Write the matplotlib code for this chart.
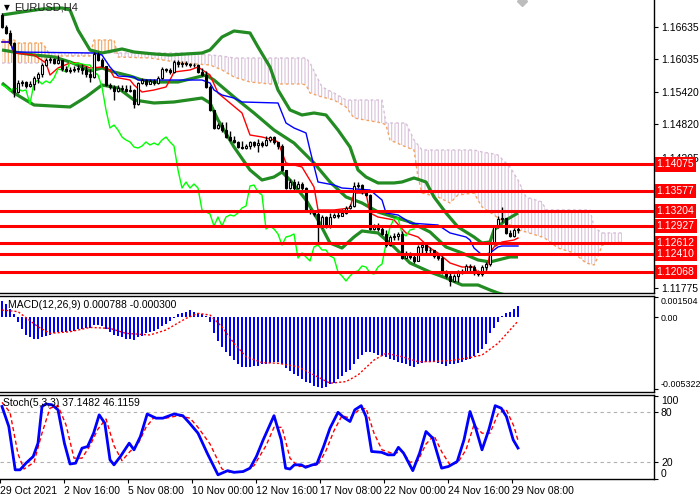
import matplotlib
matplotlib.use("Agg")
import matplotlib.pyplot as plt
import matplotlib.transforms as mtransforms
import numpy as np

# EURUSD H4 candles, 29 Oct 2021 00:00 .. 29 Nov 2021 12:00 (one value per bar)
first_open = 1.16859
closes = [
    1.16635, 1.16524, 1.16337, 1.15425, 1.15593, 1.15611, 1.15537, 1.15574, 1.15686, 1.15760,
    1.15928, 1.16021, 1.16039, 1.15965, 1.16021, 1.15853, 1.15816, 1.15835, 1.15853, 1.15872,
    1.15835, 1.15760, 1.15704, 1.16133, 1.16021, 1.15909, 1.15555, 1.15518, 1.15444, 1.15499,
    1.15481, 1.15444, 1.15462, 1.15202, 1.15593, 1.15648, 1.15574, 1.15630, 1.15593, 1.15686,
    1.15853, 1.15835, 1.15797, 1.15984, 1.15946, 1.15965, 1.15946, 1.15928, 1.15928, 1.15797,
    1.15741, 1.15518, 1.15090, 1.14755, 1.14810, 1.14717, 1.14587, 1.14531, 1.14494, 1.14401,
    1.14382, 1.14419, 1.14494, 1.14438, 1.14475, 1.14438, 1.14531, 1.14587, 1.14494, 1.14419,
    1.13973, 1.13637, 1.13749, 1.13637, 1.13712, 1.13637, 1.13228, 1.13191, 1.13153, 1.12930,
    1.13097, 1.12930, 1.13097, 1.13135, 1.13116, 1.13172, 1.13265, 1.13302, 1.13675, 1.13693,
    1.13563, 1.13507, 1.12874, 1.12930, 1.12874, 1.12781, 1.12576, 1.12725, 1.12744, 1.12781,
    1.12334, 1.12427, 1.12353, 1.12278, 1.12539, 1.12576, 1.12483, 1.12483, 1.12371, 1.12334,
    1.12073, 1.11999, 1.11906, 1.11999, 1.12073, 1.12092, 1.12185, 1.12166, 1.12055, 1.12036,
    1.12166, 1.12222, 1.12595, 1.12911, 1.13060, 1.13079, 1.12800, 1.12744, 1.12855, 1.12874,
]
highs = [
    1.16896, 1.16672, 1.16579, 1.16356, 1.15648, 1.15648, 1.15630, 1.15630, 1.15723, 1.15797,
    1.15965, 1.16058, 1.16077, 1.16058, 1.16114, 1.16021, 1.15909, 1.15890, 1.15909, 1.15928,
    1.15946, 1.15909, 1.15853, 1.16170, 1.16170, 1.16058, 1.15909, 1.15593, 1.15555, 1.15555,
    1.15555, 1.15555, 1.15555, 1.15481, 1.15611, 1.15686, 1.15667, 1.15667, 1.15667, 1.15723,
    1.15890, 1.15872, 1.15872, 1.16021, 1.16021, 1.16002, 1.16002, 1.15965, 1.15965, 1.15946,
    1.15872, 1.15816, 1.15555, 1.15090, 1.14848, 1.14866, 1.14866, 1.14699, 1.14606, 1.14513,
    1.14513, 1.14457, 1.14513, 1.14513, 1.14550, 1.14513, 1.14606, 1.14606, 1.14606, 1.14494,
    1.14457, 1.13973, 1.13805, 1.13805, 1.13768, 1.13749, 1.13656, 1.13246, 1.13228, 1.13209,
    1.13135, 1.13116, 1.13172, 1.13172, 1.13191, 1.13246, 1.13302, 1.13340, 1.13749, 1.13749,
    1.13712, 1.13582, 1.13526, 1.12967, 1.12985, 1.12930, 1.12855, 1.12762, 1.12800, 1.12818,
    1.12837, 1.12464, 1.12446, 1.12409, 1.12576, 1.12613, 1.12576, 1.12539, 1.12483, 1.12427,
    1.12371, 1.12111, 1.12073, 1.12036, 1.12111, 1.12129, 1.12222, 1.12222, 1.12204, 1.12111,
    1.12204, 1.12260, 1.12632, 1.12948, 1.13116, 1.13284, 1.13079, 1.12855, 1.12893, 1.12911,
]
lows = [
    1.16617, 1.16505, 1.16300, 1.15332, 1.15406, 1.15537, 1.15499, 1.15518, 1.15462, 1.15593,
    1.15704, 1.15909, 1.15965, 1.15946, 1.15946, 1.15816, 1.15797, 1.15779, 1.15797, 1.15797,
    1.15760, 1.15704, 1.15611, 1.15686, 1.16002, 1.15890, 1.15537, 1.15481, 1.15276, 1.15425,
    1.15444, 1.15425, 1.15425, 1.15127, 1.15183, 1.15574, 1.15537, 1.15574, 1.15555, 1.15574,
    1.15667, 1.15797, 1.15760, 1.15779, 1.15890, 1.15890, 1.15909, 1.15890, 1.15890, 1.15779,
    1.15723, 1.15499, 1.15071, 1.14736, 1.14736, 1.14680, 1.14568, 1.14513, 1.14475, 1.14382,
    1.14364, 1.14364, 1.14364, 1.14401, 1.14308, 1.14401, 1.14420, 1.14494, 1.14457, 1.14364,
    1.13954, 1.13619, 1.13619, 1.13582, 1.13637, 1.13600, 1.13209, 1.13153, 1.13116, 1.12613,
    1.12893, 1.12893, 1.12893, 1.13079, 1.13079, 1.13116, 1.13153, 1.13246, 1.13284, 1.13637,
    1.13526, 1.13488, 1.12855, 1.12855, 1.12837, 1.12762, 1.12539, 1.12557, 1.12669, 1.12669,
    1.12315, 1.12334, 1.12315, 1.12241, 1.12278, 1.12409, 1.12409, 1.12427, 1.12334, 1.12297,
    1.12036, 1.11962, 1.11813, 1.11887, 1.11887, 1.12036, 1.12073, 1.12092, 1.12017, 1.11999,
    1.11999, 1.12111, 1.12185, 1.12576, 1.12893, 1.13004, 1.12781, 1.12725, 1.12725, 1.12800,
]

# Bollinger bands (bar index, price)
bb_upper_bars = [0, 5, 10, 15, 17, 19, 22, 25, 30, 33, 38, 42, 46, 50, 52, 55, 58, 62, 64, 67,
                 69, 72, 75, 78, 81, 84, 87, 89, 91, 94, 98, 100, 103, 106, 108, 111, 114, 118, 120, 122,
                 123, 126, 129]
bb_upper = [1.16859, 1.16915, 1.16970, 1.16989, 1.16952, 1.16579, 1.16207, 1.16151, 1.16226, 1.16170,
            1.16133, 1.16114, 1.16133, 1.16151, 1.16207, 1.16449, 1.16561, 1.16524, 1.16263, 1.15890,
            1.15462, 1.15090, 1.14997, 1.15034, 1.14997, 1.14717, 1.14401, 1.13973, 1.13842, 1.13731,
            1.13731, 1.13749, 1.13824, 1.13749, 1.13470, 1.13172, 1.12911, 1.12725, 1.12613, 1.12632,
            1.12855, 1.13042, 1.13172]
bb_mid_bars = [0, 3, 8, 13, 17, 20, 22, 25, 28, 32, 35, 39, 44, 48, 51, 53, 58, 63, 68, 73,
               78, 82, 86, 90, 94, 98, 102, 107, 111, 115, 119, 122, 124, 127, 129]
bb_mid = [1.16207, 1.16170, 1.16114, 1.16077, 1.15984, 1.15890, 1.15816, 1.15872, 1.15797, 1.15723,
          1.15648, 1.15611, 1.15611, 1.15686, 1.15741, 1.15648, 1.15332, 1.15034, 1.14717, 1.14475,
          1.14103, 1.13749, 1.13470, 1.13358, 1.13191, 1.13097, 1.13004, 1.12818, 1.12539, 1.12427,
          1.12297, 1.12260, 1.12297, 1.12353, 1.12353]
bb_low_bars = [0, 3, 8, 17, 21, 25, 29, 33, 38, 43, 50, 52, 54, 58, 62, 65, 68, 70, 72, 76,
               79, 82, 85, 88, 90, 94, 98, 102, 107, 111, 115, 119, 122, 124, 129]
bb_low = [1.15593, 1.15406, 1.15183, 1.15146, 1.15332, 1.15555, 1.15499, 1.15276, 1.15220, 1.15239,
          1.15313, 1.15220, 1.14904, 1.14401, 1.13973, 1.13786, 1.13842, 1.13935, 1.13786, 1.13414,
          1.13042, 1.12613, 1.12520, 1.12725, 1.12837, 1.12800, 1.12539, 1.12241, 1.12073, 1.11962,
          1.11831, 1.11831, 1.11738, 1.11682, 1.11580]

# Ichimoku lines
tenkan_bars = [0, 2, 3, 8, 11, 12, 14, 17, 19, 22, 25, 27, 28, 32, 33, 35, 38, 41, 42, 43,
               47, 49, 52, 54, 57, 60, 62, 65, 68, 69, 71, 75, 78, 79, 83, 87, 88, 91, 92, 94,
               98, 101, 104, 107, 109, 112, 115, 118, 119, 121, 122, 123, 125, 128, 129]
tenkan = [1.16356, 1.16356, 1.16151, 1.16114, 1.15965, 1.15741, 1.15872, 1.15965, 1.15965, 1.15872,
          1.15890, 1.15835, 1.15704, 1.15648, 1.15555, 1.15425, 1.15462, 1.15518, 1.15648, 1.15797,
          1.15835, 1.15890, 1.15741, 1.15406, 1.15220, 1.15034, 1.14624, 1.14587, 1.14531, 1.14494,
          1.14103, 1.14028, 1.13656, 1.13228, 1.13228, 1.13265, 1.13544, 1.13544, 1.13172, 1.13097,
          1.13042, 1.12800, 1.12725, 1.12520, 1.12427, 1.12241, 1.12166, 1.12166, 1.12055, 1.12055,
          1.12427, 1.12539, 1.12632, 1.12669, 1.12706]
kijun_bars = [0, 2, 3, 23, 25, 27, 29, 33, 34, 50, 52, 53, 55, 58, 60, 69, 71, 73, 76, 77,
              79, 83, 85, 92, 95, 96, 99, 101, 102, 109, 112, 116, 117, 118, 120, 122, 124, 125, 129]
kijun = [1.16356, 1.16356, 1.16170, 1.16151, 1.16114, 1.15890, 1.15723, 1.15704, 1.15648, 1.15648,
         1.15593, 1.15462, 1.15369, 1.15313, 1.15239, 1.15220, 1.14848, 1.14755, 1.14662, 1.14345,
         1.13749, 1.13693, 1.13637, 1.13600, 1.13414, 1.13172, 1.13135, 1.13042, 1.12985, 1.12948,
         1.12800, 1.12725, 1.12669, 1.12520, 1.12390, 1.12427, 1.12539, 1.12557, 1.12557]
chikou_shift = 26

# Kumo (shifted forward 26 bars)
cloud_bars = [0, 3, 4, 10, 11, 12, 22, 23, 28, 29, 37, 45, 52, 55, 58, 62, 67, 75, 76, 77,
              80, 83, 86, 88, 95, 96, 97, 101, 103, 104, 105, 109, 112, 114, 118, 120, 123, 124, 126, 127,
              129, 131, 135, 136, 139, 143, 146, 147, 148, 149, 150, 155]
span_a = [1.16393, 1.16393, 1.16337, 1.16337, 1.16244, 1.16095, 1.16095, 1.16393, 1.16393, 1.16077,
          1.16058, 1.15965, 1.15928, 1.15835, 1.15704, 1.15611, 1.15574, 1.15574, 1.15555, 1.15406,
          1.15332, 1.15276, 1.15146, 1.14941, 1.14848, 1.14810, 1.14531, 1.14401, 1.14345, 1.13842,
          1.13544, 1.13470, 1.13358, 1.13507, 1.13544, 1.13284, 1.13135, 1.13079, 1.12985, 1.12948,
          1.12855, 1.12818, 1.12725, 1.12688, 1.12520, 1.12427, 1.12241, 1.12222, 1.12204, 1.12353,
          1.12576, 1.12632]
span_b = [1.15965, 1.15965, 1.15965, 1.15965, 1.16021, 1.16151, 1.16151, 1.16151, 1.16151, 1.16151,
          1.16151, 1.16151, 1.16114, 1.16095, 1.16058, 1.16058, 1.16058, 1.16058, 1.16058, 1.15965,
          1.15518, 1.15406, 1.15276, 1.15276, 1.15276, 1.14848, 1.14848, 1.14848, 1.14531, 1.14438,
          1.14345, 1.14345, 1.14345, 1.14345, 1.14345, 1.14308, 1.14271, 1.14252, 1.14103, 1.14028,
          1.13786, 1.13470, 1.13377, 1.13228, 1.13228, 1.13228, 1.13228, 1.13228, 1.12911, 1.12855,
          1.12800, 1.12800]

# horizontal levels and visible price scale ticks
levels = [1.14075, 1.13577, 1.13204, 1.12927, 1.12612, 1.12410, 1.12068]
price_ticks = [1.16635, 1.16035, 1.15420, 1.14820, 1.14205, 1.11775]

# MACD(12,26,9)
macd_hist = [
    0.0012, 0.0010, 0.0006, 0.0002, -0.0004, -0.0009, -0.0013, -0.0015, -0.0016, -0.0016,
    -0.0015, -0.0014, -0.0013, -0.0012, -0.0011, -0.0011, -0.0011, -0.0010, -0.0010, -0.0009,
    -0.0009, -0.0008, -0.0008, -0.0006, -0.0006, -0.0007, -0.0009, -0.0011, -0.0013, -0.0014,
    -0.0015, -0.0016, -0.0016, -0.0017, -0.0015, -0.0014, -0.0012, -0.0011, -0.0010, -0.0009,
    -0.0007, -0.0005, -0.0003, -0.0001, 0.0002, 0.0003, 0.0004, 0.0005, 0.0004, 0.0003,
    0.0002, 0.0001, -0.0004, -0.0012, -0.0018, -0.0022, -0.0026, -0.0029, -0.0032, -0.0035,
    -0.0037, -0.0037, -0.0037, -0.0036, -0.0036, -0.0035, -0.0035, -0.0034, -0.0033, -0.0033,
    -0.0035, -0.0038, -0.0040, -0.0042, -0.0044, -0.0046, -0.0048, -0.0049, -0.0051, -0.0052,
    -0.0053, -0.0052, -0.0050, -0.0049, -0.0046, -0.0044, -0.0041, -0.0039, -0.0035, -0.0031,
    -0.0028, -0.0026, -0.0026, -0.0027, -0.0028, -0.0029, -0.0030, -0.0031, -0.0032, -0.0033,
    -0.0034, -0.0035, -0.0036, -0.0037, -0.0035, -0.0034, -0.0033, -0.0033, -0.0033, -0.0034,
    -0.0035, -0.0036, -0.0035, -0.0035, -0.0034, -0.0033, -0.0032, -0.0031, -0.0029, -0.0027,
    -0.0024, -0.0020, -0.0012, -0.0008, -0.0004, 0.0001, 0.0003, 0.0004, 0.0006, 0.000788,
]
signal_bars = [0, 4, 9, 12, 17, 22, 27, 31, 37, 41, 46, 49, 52, 55, 58, 61, 65, 69, 74, 78,
               82, 86, 89, 93, 96, 100, 104, 107, 112, 116, 120, 124, 127, 129]
macd_signal = [0.00052, 0.0004, -0.00072, -0.00121, -0.00109, -0.00077, -0.00084, -0.00121, -0.00133, -0.00096,
               -0.0001, 0.00027, 0.00015, -0.00072, -0.00195, -0.00294, -0.00338, -0.00343, -0.00368, -0.0043,
               -0.00491, -0.00479, -0.0043, -0.00319, -0.00269, -0.00294, -0.00331, -0.00331, -0.00323, -0.00306,
               -0.00282, -0.00195, -0.00096, -0.00030]

# Stochastic(5,3,3)
k_bars = [0, 1.7, 3.3, 4.5, 6, 7.8, 9, 10, 11, 12.5, 14, 15.6, 17, 18.4, 20, 21.4, 22.9, 24.3, 25.7, 27,
          28, 29.6, 31.8, 33, 34.6, 36.3, 38.5, 40.2, 43, 45.2, 46.9, 49, 51.3, 54, 56.4, 58, 60.3, 62, 63.6, 65.3,
          68, 69.8, 70.9, 72, 73.1, 74.8, 75.9, 77.6, 78.7, 80.4, 82, 84, 85.4, 87, 88.2, 89.8, 91, 92.4, 94.9, 96.5,
          98, 99.1, 100.4, 102.7, 104.4, 106, 107.7, 109.9, 111.6, 113.8, 115.5, 117, 118.3, 120, 121.7, 123.3,
          124.8, 126.1, 127.8, 129]
stoch_k = [87, 63, 11, 11, 19, 27, 43, 87, 90, 89, 83, 43, 18, 19, 37, 39, 55, 77, 67, 23,
           17, 27, 43, 35, 51, 78, 73, 73, 78, 76, 67, 55, 31, 5, 10, 8, 9, 13, 27, 47,
           76, 47, 13, 12, 17, 17, 14, 17, 18, 39, 61, 80, 74, 69, 83, 88, 75, 33, 32, 29,
           29, 38, 31, 10, 31, 57, 49, 13, 15, 21, 47, 81, 63, 35, 59, 88,
           85, 75, 47, 37.1482]
d_bars = [0, 2, 4, 5.5, 8, 10, 12, 14, 16, 18, 20, 22, 24, 26, 28, 30, 32, 34, 36, 38,
          41, 44, 47, 49, 52, 55, 57, 60, 63, 66, 68, 70, 72, 74, 77, 79, 81, 83, 85, 87,
          89, 91, 93, 95, 98, 100, 102, 104, 106, 108, 110, 112, 114, 116, 118, 120, 122, 124, 126, 128, 129]
stoch_d = [92, 80, 30, 12, 20, 55, 85, 88, 65, 25, 25, 40, 60, 72, 40, 22, 33, 42, 62, 74,
           73, 76, 73, 62, 42, 12, 8, 8, 16, 40, 62, 62, 25, 15, 16, 17, 34, 58, 76, 73,
           82, 85, 55, 35, 30, 34, 20, 22, 42, 52, 32, 17, 20, 35, 65, 55, 55, 78, 84, 63, 46.1159]

date_bars = [0, 16, 32, 48, 64, 80, 96, 112, 128]
date_labels = ["29 Oct 2021", "2 Nov 16:00", "5 Nov 08:00", "10 Nov 00:00", "12 Nov 16:00",
               "17 Nov 08:00", "22 Nov 00:00", "24 Nov 16:00", "29 Nov 08:00"]

plt.rcParams['font.family'] = ['Liberation Sans', 'DejaVu Sans']
plt.rcParams['hatch.linewidth'] = 0.8

fig = plt.figure(figsize=(7, 5), dpi=100)
W = 654 / 700
ax = fig.add_axes([0, 1 - 293 / 500, W, 293 / 500])
axm = fig.add_axes([0, 1 - 392 / 500, W, 96 / 500])
axs = fig.add_axes([0, 1 - 479 / 500, W, 84 / 500])

n = len(closes)
x = np.arange(n)
opens = [first_open] + closes[:-1]

# cloud
cb = np.array(cloud_bars)
sa = np.array(span_a)
sb = np.array(span_b)
ax.fill_between(cb, sa, sb, where=sa >= sb, interpolate=True, facecolor='none',
                edgecolor='#F4A460', hatch='|||||', linewidth=0, zorder=1)
ax.fill_between(cb, sa, sb, where=sa < sb, interpolate=True, facecolor='none',
                edgecolor='#DAC2DA', hatch='|||||', linewidth=0, zorder=1)
ax.plot(cb, sa, color='#F4A460', lw=1, ls=(0, (2, 2)), zorder=2)
ax.plot(cb, sb, color='#D8BFD8', lw=1, ls=(0, (2, 2)), zorder=2)

# bollinger bands
for bx, by in [(bb_upper_bars, bb_upper), (bb_mid_bars, bb_mid), (bb_low_bars, bb_low)]:
    ax.plot(bx, by, color='#228B22', lw=2.3, zorder=3, solid_capstyle='butt')

# ichimoku lines
ax.plot(tenkan_bars, tenkan, color='red', lw=1, zorder=4)
ax.plot(kijun_bars, kijun, color='blue', lw=1, zorder=4)
ax.plot(x[:n - chikou_shift], closes[chikou_shift:], color='#00FF00', lw=1, zorder=4)

# candles
ax.vlines(x, lows, highs, color='black', lw=1, zorder=5)
body_lo = [min(o, c) for o, c in zip(opens, closes)]
body_h = [max(abs(c - o), 0.00002) for o, c in zip(opens, closes)]
body_col = ['white' if c > o else 'black' for o, c in zip(opens, closes)]
ax.bar(x, body_h, bottom=body_lo, width=0.62, color=body_col, edgecolor='black',
       linewidth=0.8, zorder=6)

# levels with price boxes
trans = mtransforms.blended_transform_factory(ax.transAxes, ax.transData)
for lv in levels:
    ax.axhline(lv, color='red', lw=2.2, zorder=8)
    ax.text(1.004, lv, f"{lv:.5f}", transform=trans, ha='left', va='center', color='white',
            fontsize=7.5, zorder=10,
            bbox=dict(boxstyle='square,pad=0.2', facecolor='red', edgecolor='none'))

ax.set_ylim(1.11682, 1.17138)
ax.yaxis.tick_right()
ax.set_yticks(price_ticks)
ax.set_yticklabels([f"{p:.5f}" for p in price_ticks])

# chart shift marker
ax.plot(130, 1.1712, marker='D', color='#BDBDBD', ms=5, clip_on=False, zorder=9)

fig.text(4 / 700, 1 - 8 / 500, "\u25bc", fontsize=5.5, va='center', ha='left',
         family='DejaVu Sans')
fig.text(14 / 700, 1 - 8 / 500, "EURUSD,H4", fontsize=8, va='center', ha='left', color='#222222')

# MACD
axm.bar(x, macd_hist, width=0.7, color='#0000FF', zorder=2)
axm.plot(signal_bars, macd_signal, color='red', lw=1, ls=(0, (1.5, 1.5)), zorder=3)
axm.set_ylim(-0.00556, 0.00156)
axm.yaxis.tick_right()
axm.set_yticks([0.001504, 0.0, -0.005322])
axm.set_yticklabels(["0.001504", "0.00", "-0.005322"])
lbls = axm.get_yticklabels()
lbls[0].set_va('top')
lbls[2].set_va('bottom')
axm.text(8 / 654, 1 - 9 / 96, "MACD(12,26,9) 0.000788 -0.000300", transform=axm.transAxes,
         fontsize=7.5, va='center', ha='left')

# Stochastic
axs.axhline(80, color='#B0B0B0', lw=0.8, ls=(0, (3, 3)), zorder=1)
axs.axhline(20, color='#B0B0B0', lw=0.8, ls=(0, (3, 3)), zorder=1)
axs.plot(d_bars, stoch_d, color='red', lw=1, ls=(0, (3, 2)), zorder=2)
axs.plot(k_bars, stoch_k, color='#0000FF', lw=2, zorder=3)
axs.set_ylim(0, 100.8)
axs.yaxis.tick_right()
axs.set_yticks([100, 80, 20, 0])
axs.set_yticklabels(["100", "80", "20", "0"])
lbls = axs.get_yticklabels()
lbls[0].set_va('top')
lbls[3].set_va('bottom')
axs.text(3 / 654, 1 - 8 / 84, "Stoch(5,3,3) 37.1482 46.1159", transform=axs.transAxes,
         fontsize=7.5, va='center', ha='left')

axs.set_xticks([b - 0.5 for b in date_bars])
axs.set_xticklabels(date_labels)
for lbl in axs.get_xticklabels():
    lbl.set_ha('left')

for a in (ax, axm, axs):
    a.set_xlim(-0.5, 163)
    a.spines['left'].set_visible(False)
    for s in ('top', 'bottom', 'right'):
        a.spines[s].set_linewidth(1)
        a.spines[s].set_color('black')
    a.tick_params(axis='y', length=3, pad=2, labelsize=7.5, direction='out', colors='black')
    a.set_facecolor('white')
axm.tick_params(axis='y', labelsize=6.4, pad=1.5)
ax.spines['top'].set_visible(False)
ax.tick_params(axis='x', bottom=False, labelbottom=False)
axm.tick_params(axis='x', bottom=False, labelbottom=False)
axs.tick_params(axis='x', length=3, pad=2, labelsize=7.5, direction='out')

fig.savefig('out.png', dpi=100)
